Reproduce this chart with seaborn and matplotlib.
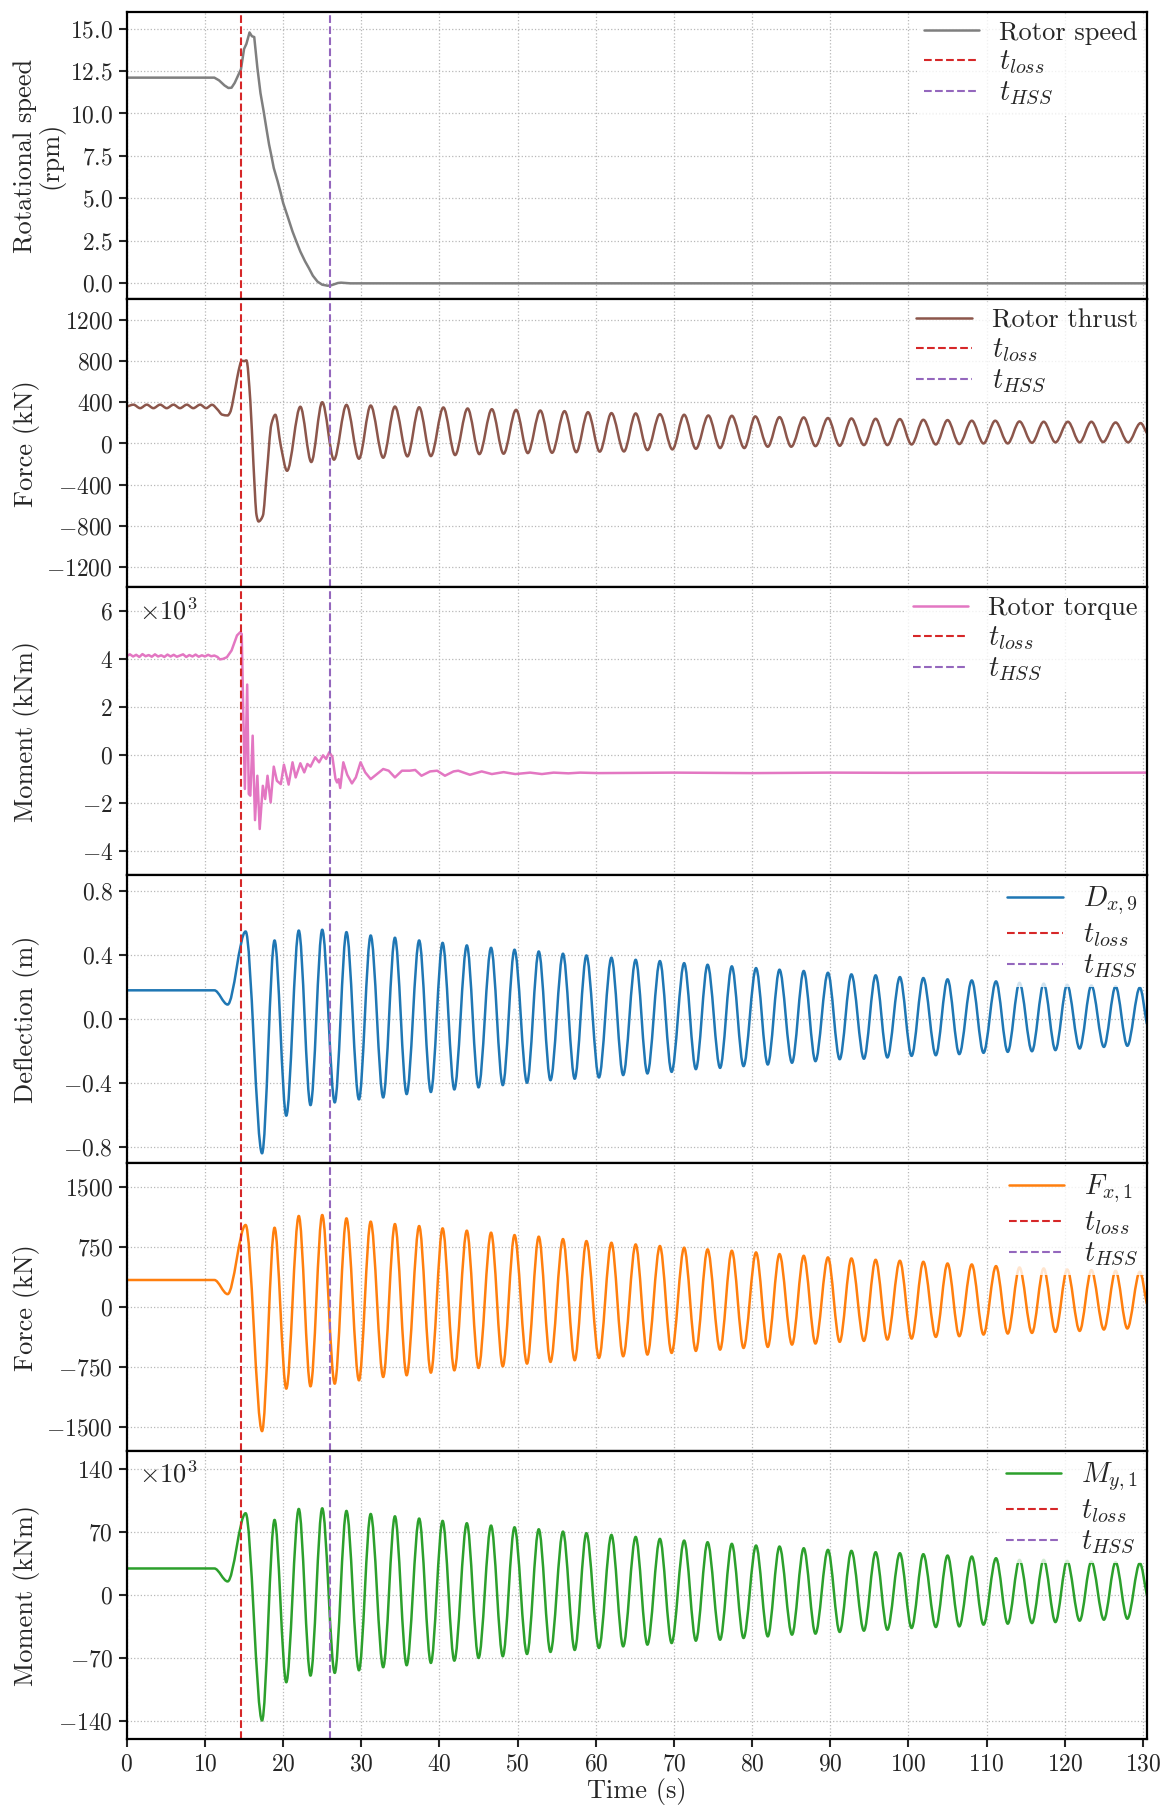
import numpy as np
import pandas as pd
import matplotlib
matplotlib.use("Agg")
import matplotlib.pyplot as plt
import seaborn as sns
from matplotlib.path import Path
from matplotlib.patches import PathPatch
from matplotlib.lines import Line2D

# ---------------- data ----------------
t_loss = 14.6
t_hss = 26.0

speed_t = [0, 11.2, 11.8, 12.5, 13.0, 13.4, 13.8, 14.2, 14.6, 15.0, 15.3, 15.7, 16.0, 16.3,
           16.7, 17.1, 17.5, 17.9, 18.2, 18.5, 18.8, 19.3, 19.7, 20.0, 20.6, 21.2, 21.7, 22.2,
           22.8, 23.3, 23.8, 24.4, 25.0, 25.7, 26.1, 26.5, 27.0, 27.4, 28.6, 130.5]
speed_v = [12.11, 12.11, 11.95, 11.65, 11.5, 11.52, 11.8, 12.2, 12.6, 13.8, 14.1, 14.77, 14.55, 14.5,
           12.7, 11.2, 10.14, 9.0, 8.17, 7.5, 6.79, 6.0, 5.3, 4.73, 3.9, 3.05, 2.45, 1.87,
           1.3, 0.89, 0.45, 0.1, -0.08, -0.14, -0.12, -0.06, 0.02, 0.04, 0.0, 0.0]

thrust_t = [0, 0.85, 1.7, 2.56, 3.4, 4.26, 5.1, 5.97, 6.8, 7.68, 8.5, 9.38, 10.15, 10.9, 11.6,
            12.2, 12.9, 13.2, 13.9, 14.3, 14.7, 15.0, 15.3, 15.8, 16.2, 16.6, 16.85, 17.4, 17.9,
            18.5, 19.0, 19.7, 20.5, 22.2, 23.6, 25.0, 26.5, 28.1, 29.7, 31.2, 32.8, 34.3, 35.9,
            37.4, 38.9, 40.5, 42.0, 43.6, 45.1, 46.7, 48.2, 49.8, 51.3, 52.9, 54.4, 56.0, 57.5,
            59.0, 60.5, 62.0, 63.6, 65.1, 66.6, 68.2, 69.8, 71.3, 72.8, 74.4, 75.9, 77.4, 79.0,
            80.4, 82.0, 83.5, 85.0, 86.6, 88.1, 89.7, 91.2, 92.7, 94.3, 95.8, 97.3, 98.9, 100.4,
            101.9, 103.5, 105.0, 106.5, 108.1, 109.6, 111.1, 112.7, 114.2, 115.8, 117.3, 118.8,
            120.4, 121.9, 123.4, 124.9, 126.5, 128.1, 129.7, 130.5]
thrust_v = [362, 377, 343, 377, 343, 377, 343, 377, 343, 377, 343, 377, 343, 376, 330,
            280, 272, 300, 545, 707, 805, 800, 808, 415, -200, -700, -759, -704, -298,
            188, 279, -23, -266, 357, -181, 401, -158, 375, -149, 369, -139, 359, -126,
            352, -123, 350, -113, 340, -104, 333, -100, 327, -94, 320, -91, 314, -85,
            304, -80, 295, -78, 292, -65, 285, -58, 279, -52, 272, -45, 269, -45,
            263, -32, 256, -32, 253, -26, 247, -23, 243, -16, 240, -16, 237, -10,
            230, -10, 227, -6, 221, 0, 221, 0, 214, 6, 211, 10,
            211, 10, 211, 13, 204, 10, 198, 100]

torque_t = [0, 0.4, 0.8, 1.2, 1.6, 2.0, 2.4, 2.8, 3.2, 3.6, 4.0, 4.4, 4.8, 5.2, 5.6, 6.0, 6.4,
            6.8, 7.2, 7.6, 8.0, 8.4, 8.8, 9.2, 9.6, 10.0, 10.4, 10.8, 11.2, 11.6, 11.9, 12.3,
            12.8, 13.4, 14.1, 14.5, 14.7, 14.9, 15.1, 15.4, 15.6, 15.8, 16.1, 16.4, 16.7, 17.0,
            17.4, 17.7, 18.0, 18.4, 18.8, 19.2, 19.7, 20.1, 20.7, 21.2, 21.6, 22.2, 22.7, 23.1,
            23.5, 24.1, 24.6, 25.1, 25.5, 25.9, 26.3, 26.7, 26.9, 27.1, 27.3, 27.7, 28.2, 28.8,
            29.3, 29.9, 30.5, 31.2, 32.0, 32.8, 33.5, 34.3, 35.2, 36.2, 36.9, 37.7, 38.8, 39.7,
            40.7, 41.8, 42.4, 43.9, 45.4, 46.7, 48.2, 49.7, 51.6, 53.1, 54.6, 56.5, 58.0, 60.3,
            70.0, 80.0, 90.0, 100.0, 110.0, 120.0, 130.5]
torque_v = [4.14, 4.21, 4.12, 4.19, 4.10, 4.22, 4.13, 4.18, 4.11, 4.21, 4.12, 4.17, 4.10, 4.20,
            4.12, 4.19, 4.11, 4.16, 4.21, 4.10, 4.18, 4.12, 4.20, 4.11, 4.17, 4.12, 4.19, 4.13,
            4.16, 4.10, 4.00, 4.02, 4.09, 4.37, 5.00, 5.13, 5.06, 1.72, -1.40, 2.95, -1.61, -1.68,
            0.82, -2.70, -0.85, -3.07, -1.27, -1.82, -0.85, -1.96, -0.47, -1.06, -1.20, -0.39,
            -1.22, -0.29, -0.92, -0.33, -0.71, -0.36, -0.47, -0.08, -0.29, 0.00, -0.15, 0.13,
            -0.06, -0.99, -1.13, -0.99, -1.36, -0.29, -0.81, -1.17, -0.92, -0.29, -0.71, -0.99,
            -0.78, -0.57, -0.64, -0.92, -0.64, -0.64, -0.61, -0.85, -0.67, -0.64, -0.85, -0.67,
            -0.64, -0.81, -0.67, -0.78, -0.70, -0.78, -0.72, -0.78, -0.72, -0.75, -0.72, -0.74,
            -0.72, -0.74, -0.72, -0.73, -0.72, -0.73, -0.72]

# local extrema of the tower responses (shared time stamps)
tower_t = [0, 11.2, 12.9, 15.2, 17.3, 18.9, 20.4, 22.0, 23.5, 25.0, 26.6, 28.1, 29.7, 31.2, 32.8,
           34.3, 35.8, 37.4, 38.9, 40.4, 41.9, 43.5, 45.0, 46.6, 48.1, 49.6, 51.2, 52.7, 54.2,
           55.8, 57.3, 58.8, 60.4, 62.0, 63.5, 65.1, 66.6, 68.2, 69.7, 71.3, 72.8, 74.3, 75.9,
           77.4, 78.9, 80.5, 82.0, 83.5, 85.1, 86.6, 88.1, 89.7, 91.2, 92.7, 94.3, 95.8, 97.3,
           98.9, 100.4, 101.9, 103.5, 105.0, 106.5, 108.1, 109.6, 111.2, 112.7, 114.2, 115.8,
           117.3, 118.8, 120.3, 121.9, 123.4, 125.0, 126.5, 128.0, 129.6, 130.5]
dx9_v = [0.181, 0.181, 0.092, 0.549, -0.838, 0.493, -0.603, 0.555, -0.537, 0.560, -0.520, 0.545,
         -0.501, 0.524, -0.489, 0.510, -0.468, 0.493, -0.455, 0.478, -0.439, 0.462, -0.426, 0.447,
         -0.412, 0.435, -0.397, 0.424, -0.381, 0.410, -0.372, 0.399, -0.364, 0.385, -0.349, 0.372,
         -0.339, 0.364, -0.329, 0.351, -0.312, 0.341, -0.304, 0.331, -0.293, 0.320, -0.283, 0.310,
         -0.272, 0.302, -0.262, 0.291, -0.250, 0.281, -0.247, 0.275, -0.239, 0.264, -0.229, 0.258,
         -0.225, 0.250, -0.218, 0.243, -0.210, 0.237, -0.204, 0.228, -0.200, 0.223, -0.193, 0.216,
         -0.183, 0.212, -0.173, 0.206, -0.166, 0.198, -0.03]
fx1_v = [340, 340, 163, 1028, -1550, 994, -1019, 1141, -990, 1153, -957, 1111, -915, 1070, -873,
         1040, -852, 1015, -819, 986, -790, 957, -760, 932, -740, 902, -706, 882, -685, 852, -664,
         827, -635, 806, -614, 785, -593, 765, -572, 744, -547, 723, -531, 706, -510, 685, -497,
         664, -468, 643, -455, 623, -434, 610, -422, 593, -405, 581, -393, 568, -372, 547, -363,
         535, -343, 514, -330, 497, -322, 485, -309, 472, -297, 464, -280, 455, -267, 443, 40]
my1_v = [29.6, 29.6, 15.2, 91.0, -139.4, 83.6, -96.9, 95.8, -89.5, 96.5, -86.5, 93.6, -83.6, 90.2,
         -80.2, 87.6, -78.0, 85.1, -75.4, 82.5, -72.9, 79.9, -69.9, 77.3, -68.0, 75.4, -65.5, 73.2,
         -63.2, 70.6, -61.0, 68.8, -58.8, 66.9, -57.0, 64.7, -55.1, 62.5, -53.3, 60.6, -50.7, 58.8,
         -49.6, 57.0, -47.7, 55.1, -45.9, 54.0, -44.0, 52.1, -42.9, 50.3, -41.0, 49.2, -39.6, 47.7,
         -38.5, 46.6, -36.6, 45.5, -35.5, 44.0, -34.8, 42.9, -32.9, 41.0, -31.8, 39.2, -31.1, 39.2,
         -30.0, 38.1, -28.5, 37.3, -27.4, 36.6, -26.3, 35.5, 0.0]

x_ticks = [0, 10, 20, 30, 40, 50, 60, 70, 80, 90, 100, 110, 120, 130]
speed_ticks = [0, 2.5, 5, 7.5, 10, 12.5, 15]
thrust_ticks = [-1200, -800, -400, 0, 400, 800, 1200]
torque_ticks = [-4, -2, 0, 2, 4, 6]
dx_ticks = [-0.8, -0.4, 0.0, 0.4, 0.8]
fx_ticks = [-1500, -750, 0, 750, 1500]
my_ticks = [-140, -70, 0, 70, 140]

# ---------------- style ----------------
sns.set_style("ticks")
plt.rcParams.update({
    "font.family": "serif",
    "font.serif": ["cmr10"],
    "mathtext.fontset": "cm",
    "axes.formatter.use_mathtext": True,
    "axes.unicode_minus": True,
    "font.size": 17,
    "axes.edgecolor": "black",
    "axes.linewidth": 1.6,
})

FS_TICK = 17
FS_LABEL = 19
FS_LEG = 19
FS_LEG_MATH = 20.5
LW = 1.8


def smooth_curve(x, y):
    """Smooth (shape preserving) Bezier path through the given points."""
    x = np.asarray(x, float)
    y = np.asarray(y, float)
    h = np.diff(x)
    d = np.diff(y) / h
    m = np.zeros_like(y)
    for i in range(1, len(y) - 1):
        if d[i - 1] * d[i] > 0:
            w1 = 2 * h[i] + h[i - 1]
            w2 = h[i] + 2 * h[i - 1]
            m[i] = (w1 + w2) / (w1 / d[i - 1] + w2 / d[i])
    m[-1] = d[-1]
    verts = [(x[0], y[0])]
    codes = [Path.MOVETO]
    for i in range(len(x) - 1):
        verts += [(x[i] + h[i] / 3, y[i] + m[i] * h[i] / 3),
                  (x[i + 1] - h[i] / 3, y[i + 1] - m[i + 1] * h[i] / 3),
                  (x[i + 1], y[i + 1])]
        codes += [Path.CURVE4] * 3
    return Path(verts, codes)


panels = [
    dict(kind="line", t=speed_t, v=speed_v, color="tab:gray", label="Rotor speed",
         ylabel="Rotational speed\n(rpm)", ylim=(-0.95, 16.0), ticks=speed_ticks, scale=False,
         labx=-0.0615),
    dict(kind="smooth", t=thrust_t, v=thrust_v, color="tab:brown", label="Rotor thrust",
         ylabel="Force (kN)", ylim=(-1400, 1400), ticks=thrust_ticks, scale=False, labx=-0.0855),
    dict(kind="line", t=torque_t, v=torque_v, color="tab:pink", label="Rotor torque",
         ylabel="Moment (kNm)", ylim=(-5.0, 7.0), ticks=torque_ticks, scale=True, labx=-0.0855),
    dict(kind="smooth", t=tower_t, v=dx9_v, color="tab:blue", label=r"$D_{x,9}$",
         ylabel="Deflection (m)", ylim=(-0.9, 0.9), ticks=dx_ticks, scale=False, labx=-0.0855),
    dict(kind="smooth", t=tower_t, v=fx1_v, color="tab:orange", label=r"$F_{x,1}$",
         ylabel="Force (kN)", ylim=(-1800, 1800), ticks=fx_ticks, scale=False, labx=-0.0855),
    dict(kind="smooth", t=tower_t, v=my1_v, color="tab:green", label=r"$M_{y,1}$",
         ylabel="Moment (kNm)", ylim=(-160, 160), ticks=my_ticks, scale=True, labx=-0.0855),
]

fig = plt.figure(figsize=(11.71, 18.07), dpi=100)
axes = fig.subplots(6, 1, sharex=True, gridspec_kw=dict(hspace=0))
fig.subplots_adjust(left=0.1083, right=0.9794, top=0.9936, bottom=0.0376)

for i, (ax, p) in enumerate(zip(axes, panels)):
    if p["kind"] == "line":
        df = pd.DataFrame({"t": p["t"], "v": p["v"]})
        sns.lineplot(data=df, x="t", y="v", ax=ax, color=p["color"], lw=LW,
                     estimator=None, sort=False, legend=False)
    else:
        ax.add_patch(PathPatch(smooth_curve(p["t"], p["v"]), fill=False,
                               edgecolor=p["color"], lw=LW, joinstyle="round"))
    h_series = Line2D([], [], color=p["color"], lw=LW)
    h_loss = ax.axvline(t_loss, color="tab:red", ls="--", lw=1.5)
    h_hss = ax.axvline(t_hss, color="tab:purple", ls="--", lw=1.5)

    ax.set_xlim(0, 130.5)
    ax.set_ylim(*p["ylim"])
    ax.set_yticks(p["ticks"])
    ax.set_xticks(x_ticks)
    ax.grid(True, color="0.72", ls=":", lw=0.9)
    ax.set_ylabel(p["ylabel"], fontsize=FS_LABEL, linespacing=1.0)
    ax.yaxis.set_label_coords(p["labx"], 0.5)
    ax.set_xlabel("")
    ax.tick_params(axis="both", direction="out", length=6, width=1.5, labelsize=FS_TICK, pad=4)
    if i < 5:
        ax.tick_params(axis="x", bottom=False, labelbottom=False)
    for s in ax.spines.values():
        s.set_linewidth(1.6)
        s.set_color("black")
    if p["scale"]:
        ax.text(0.012, 0.965, r"$\times10^{3}$", transform=ax.transAxes,
                ha="left", va="top", fontsize=FS_LABEL)
    leg = ax.legend([h_series, h_loss, h_hss], [p["label"], r"$t_{loss}$", r"$t_{HSS}$"],
                    loc="upper right", fontsize=FS_LEG, frameon=True, framealpha=0.8,
                    edgecolor="none", fancybox=False, borderaxespad=0.1, borderpad=0.25,
                    handlelength=2.1, handletextpad=0.75, labelspacing=0.15)
    for txt in leg.get_texts():
        if txt.get_text().startswith("$"):
            txt.set_fontsize(FS_LEG_MATH)

axes[-1].set_xlabel("Time (s)", fontsize=FS_LABEL, labelpad=2)

fig.savefig("out.png", dpi=100)
